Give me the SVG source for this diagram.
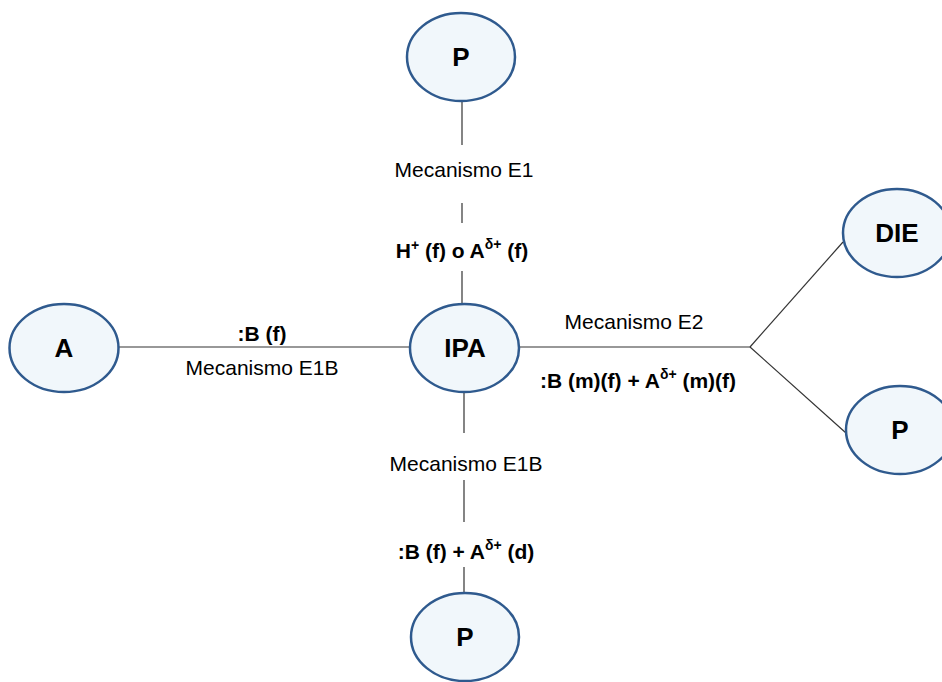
<svg xmlns="http://www.w3.org/2000/svg" width="942" height="682" viewBox="0 0 942 682">
<style>
.node{fill:#f1f7fb;stroke:#2f5a8e;stroke-width:2.5}
.nl{font-family:"Liberation Sans",Arial,sans-serif;font-weight:bold;font-size:26px;text-anchor:middle;fill:#000}
.lb{font-family:"Liberation Sans",Arial,sans-serif;font-size:21px;text-anchor:middle;fill:#000}
.bl{font-family:"Liberation Sans",Arial,sans-serif;font-weight:bold;font-size:21px;text-anchor:middle;fill:#000}
.sup{font-size:14px}
.c{stroke:#333;stroke-width:1.2;fill:none}
</style>
<rect width="942" height="682" fill="#fff"/>
<g id="connectors">
<line class="c" x1="462" y1="101" x2="462" y2="145"/>
<line class="c" x1="462" y1="203" x2="462" y2="223"/>
<line class="c" x1="462" y1="271" x2="462" y2="304"/>
<line class="c" x1="464" y1="392" x2="464" y2="433"/>
<line class="c" x1="464" y1="480" x2="464" y2="522"/>
<line class="c" x1="464" y1="567" x2="464" y2="594"/>
<line class="c" x1="118" y1="347" x2="410" y2="347"/>
<line class="c" x1="519" y1="347" x2="750" y2="347"/>
<line class="c" x1="750" y1="347" x2="843" y2="242"/>
<line class="c" x1="750" y1="347" x2="846" y2="433"/>
</g>
<g id="labels">
<text class="lb" x="464" y="177">Mecanismo E1</text>
<text class="bl" x="462" y="258">H<tspan class="sup" dy="-8">+</tspan><tspan dy="8"> (f) o A</tspan><tspan class="sup" dy="-9">δ+</tspan><tspan dy="9"> (f)</tspan></text>
<text class="bl" x="262" y="341">:B (f)</text>
<text class="lb" x="262" y="375">Mecanismo E1B</text>
<text class="lb" x="634" y="329">Mecanismo E2</text>
<text class="bl" x="638" y="388">:B (m)(f) + A<tspan class="sup" dy="-9">δ+</tspan><tspan dy="9"> (m)(f)</tspan></text>
<text class="lb" x="466" y="471">Mecanismo E1B</text>
<text class="bl" x="466" y="559">:B (f) + A<tspan class="sup" dy="-9">δ+</tspan><tspan dy="9"> (d)</tspan></text>
</g>
<g id="node-P-top"><ellipse class="node" cx="461" cy="57" rx="54" ry="44"/><text class="nl" x="461" y="66">P</text></g>
<g id="node-IPA"><ellipse class="node" cx="464.5" cy="348" rx="54.5" ry="44"/><text class="nl" x="465" y="357">IPA</text></g>
<g id="node-A"><ellipse class="node" cx="64" cy="348" rx="54.5" ry="44"/><text class="nl" x="64" y="357">A</text></g>
<g id="node-DIE"><ellipse class="node" cx="897" cy="233" rx="54" ry="44"/><text class="nl" x="897" y="242">DIE</text></g>
<g id="node-P-right"><ellipse class="node" cx="900" cy="430" rx="54" ry="44"/><text class="nl" x="900" y="439">P</text></g>
<g id="node-P-bottom"><ellipse class="node" cx="465" cy="637" rx="54" ry="44"/><text class="nl" x="465" y="646">P</text></g>
</svg>
